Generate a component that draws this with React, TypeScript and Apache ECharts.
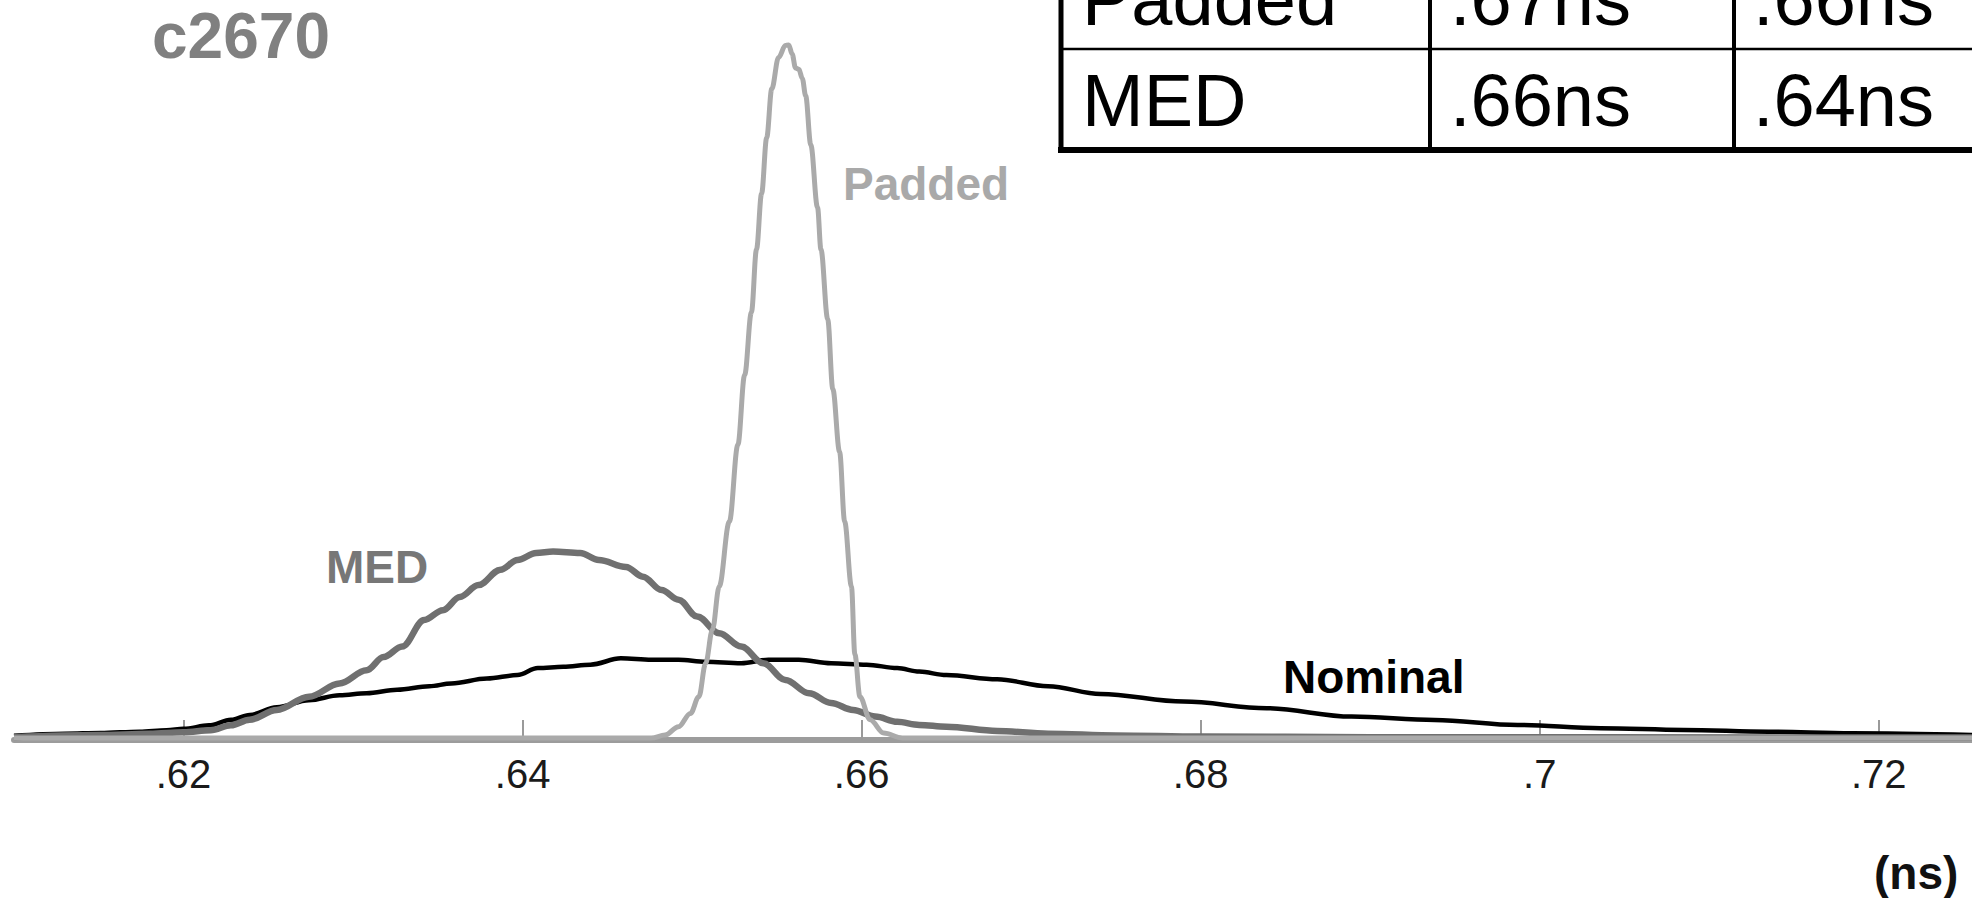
import React, { useEffect, useRef } from "react";
import * as echarts from "echarts";

const FONT = "'Liberation Sans', Arial, Helvetica, sans-serif";

const xTicks = [0.62, 0.64, 0.66, 0.68, 0.7, 0.72];

const tableRows = ["Padded", "MED"];
const tableCol2 = [".67ns", ".66ns"];
const tableCol3 = [".66ns", ".64ns"];

const nominalData: [number, number][] = [
  [0.61, 0.3], [0.613, 0.6], [0.6151, 0.7], [0.6174, 0.9], [0.619, 1.1], [0.62, 1.3],
  [0.6215, 1.8], [0.6228, 2.6], [0.6239, 3.3], [0.6255, 4.4], [0.6274, 5.4], [0.6292, 6.1],
  [0.6308, 6.4], [0.6326, 6.9], [0.6345, 7.4], [0.6358, 7.8], [0.6379, 8.5], [0.6397, 9.0],
  [0.6409, 10.0], [0.6424, 10.2], [0.644, 10.5], [0.6458, 11.4], [0.6476, 11.2], [0.6492, 11.2],
  [0.6508, 10.9], [0.6529, 10.7], [0.6545, 11.2], [0.6563, 11.2], [0.6582, 10.7], [0.6603, 10.5],
  [0.6621, 10.0], [0.6634, 9.5], [0.665, 9.0], [0.668, 8.4], [0.671, 7.4], [0.6741, 6.3],
  [0.679, 5.2], [0.6839, 4.25], [0.6889, 3.05], [0.6938, 2.58], [0.6987, 1.86], [0.7036, 1.39],
  [0.7085, 1.15], [0.7135, 0.9], [0.7184, 0.67], [0.7255, 0.43],
];

const medData: [number, number][] = [
  [0.61, 0.1], [0.615, 0.4], [0.618, 0.6], [0.62, 0.8], [0.6216, 1.1], [0.6228, 1.8],
  [0.6239, 2.6], [0.6255, 4.0], [0.6274, 5.9], [0.6292, 7.8], [0.6308, 9.7], [0.6318, 11.6],
  [0.6329, 13.1], [0.6342, 16.9], [0.6353, 18.3], [0.6363, 20.2], [0.6374, 21.9], [0.6387, 24.1],
  [0.6397, 25.5], [0.6408, 26.5], [0.6418, 26.7], [0.6434, 26.5], [0.6445, 25.5], [0.6461, 24.5],
  [0.6471, 23.1], [0.6482, 21.2], [0.6492, 19.8], [0.6503, 17.4], [0.6516, 15.0], [0.6529, 13.1],
  [0.6542, 10.7], [0.6555, 8.3], [0.6569, 6.4], [0.6582, 5.0], [0.6595, 4.0], [0.6608, 3.05],
  [0.6621, 2.3], [0.6634, 1.86], [0.665, 1.6], [0.668, 1.0], [0.671, 0.6], [0.675, 0.35],
  [0.68, 0.2], [0.69, 0.1], [0.7255, 0.05],
];

const paddedData: [number, number][] = [
  [0.61, 0], [0.6476, 0], [0.6484, 0.4], [0.6492, 1.6], [0.6499, 3.5], [0.6504, 5.9],
  [0.6508, 10.7], [0.6512, 15.5], [0.6516, 21.7], [0.6522, 31], [0.6527, 42], [0.6531, 52],
  [0.6535, 61], [0.6538, 70], [0.6541, 78], [0.6544, 86], [0.6547, 93], [0.6551, 97.5],
  [0.6555, 99.2], [0.6557, 99.3], [0.6559, 98], [0.6561, 96], [0.6563, 95.8], [0.6565, 94.5],
  [0.6567, 92], [0.657, 85], [0.6574, 76], [0.6576, 70], [0.658, 60], [0.6583, 50],
  [0.6587, 41], [0.659, 31], [0.6594, 21.7], [0.6596, 12], [0.6599, 5.9], [0.6605, 2.6],
  [0.6613, 0.7], [0.6624, 0], [0.7255, 0],
];

function txt(text: string, x: number, y: number, size: number, color: string, weight: string, align = "left") {
  return {
    type: "text",
    x,
    y,
    z: 10,
    style: {
      text,
      fontSize: size,
      fontWeight: weight,
      fontFamily: FONT,
      fill: color,
      textAlign: align,
      align,
      textVerticalAlign: "middle",
      verticalAlign: "middle",
    },
  };
}

function ln(x1: number, y1: number, x2: number, y2: number, w: number) {
  return {
    type: "line",
    z: 10,
    shape: { x1, y1, x2, y2 },
    style: { stroke: "#000", lineWidth: w },
  };
}

export default function App() {
  const ref = useRef<HTMLDivElement>(null);
  useEffect(() => {
    if (!ref.current) return;
    const chart = echarts.init(ref.current, null, { renderer: "svg" });
    const rowY = [-1, 100];
    const graphic: any[] = [
      // table
      ln(1061, -60, 1061, 152, 5),
      ln(1058, 150, 1980, 150, 6),
      ln(1061, 49, 1980, 49, 2.5),
      ln(1430, -60, 1430, 150, 4),
      ln(1734, -60, 1734, 150, 4),
    ];
    tableRows.forEach((r, i) => {
      graphic.push(txt(r, 1082, rowY[i], 74, "#000", "normal"));
      graphic.push(txt(tableCol2[i], 1450, rowY[i], 74, "#000", "normal"));
      graphic.push(txt(tableCol3[i], 1753, rowY[i], 74, "#000", "normal"));
    });
    graphic.push(txt("Padded", 843, 184, 46, "#a9a9a9", "bold"));
    graphic.push(txt("MED", 326, 567, 46, "#777777", "bold"));
    graphic.push(txt("Nominal", 1283, 677, 46, "#000000", "bold"));
    graphic.push(txt("(ns)", 1874, 873, 46, "#111111", "bold"));

    const seriesBase = {
      type: "line",
      showSymbol: false,
      symbol: "none",
      smooth: 0.35,
      smoothMonotone: "x",
      clip: true,
    };

    chart.setOption({
      animation: false,
      backgroundColor: "#ffffff",
      title: {
        text: "c2670",
        left: 152,
        top: 4,
        padding: 0,
        textStyle: { fontSize: 64, fontWeight: "bold", color: "#808080", fontFamily: FONT },
      },
      grid: { left: 14, right: 0, top: 40, bottom: 158, containLabel: false },
      xAxis: {
        type: "value",
        min: 0.61,
        max: 0.7255,
        axisLine: { show: true, onZero: false, lineStyle: { color: "#9c9c9c", width: 6 } },
        axisTick: {
          show: true,
          inside: true,
          length: 20,
          customValues: xTicks,
          lineStyle: { color: "#9a9a9a", width: 2 },
        },
        axisLabel: {
          show: true,
          customValues: xTicks,
          fontSize: 40,
          color: "#1a1a1a",
          fontFamily: FONT,
          margin: 14,
          formatter: (v: number) => String(Math.round(v * 100) / 100).replace(/^0/, ""),
        },
        splitLine: { show: false },
      },
      yAxis: { type: "value", min: -0.3, max: 100, show: false },
      series: [
        { ...seriesBase, name: "Nominal", data: nominalData, z: 3, lineStyle: { color: "#000000", width: 4.5 } },
        { ...seriesBase, name: "MED", data: medData, z: 4, lineStyle: { color: "#707070", width: 6.5 } },
        { ...seriesBase, name: "Padded", data: paddedData, z: 5, lineStyle: { color: "#aaaaaa", width: 5 } },
      ],
      graphic,
    });
    return () => chart.dispose();
  }, []);
  return (
    <div
      ref={ref}
      style={{ position: "fixed", left: 0, top: 0, width: 1972, height: 898, background: "#fff" }}
    />
  );
}
